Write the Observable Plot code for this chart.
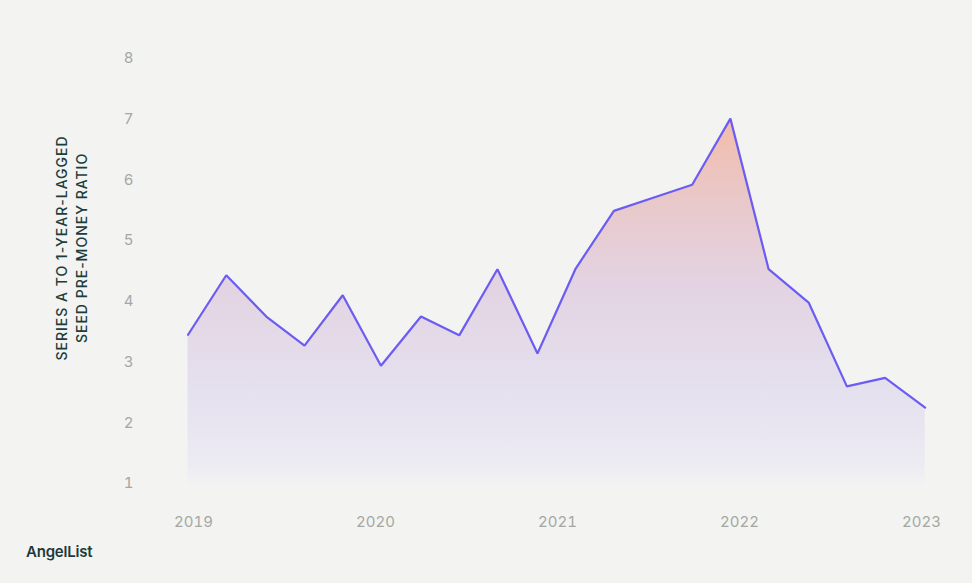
<!DOCTYPE html>
<html>
<head>
<meta charset="utf-8">
<script src="https://cdn.jsdelivr.net/npm/d3@7"></script>
<script src="https://cdn.jsdelivr.net/npm/@observablehq/plot@0.6"></script>
<style>
  html, body { margin: 0; padding: 0; background: #f3f3f2; }
  #chart { position: relative; width: 972px; height: 583px; }
  #brand { position: absolute; left: 26px; top: 542px; font-family: Inter, "Noto Sans", sans-serif; font-weight: 600; font-size: 15px; color: #1d3a3a; letter-spacing: -0.2px; }
</style>
</head>
<body>
<div id="chart"><div id="brand">AngelList</div></div>
<script>
const periods = [2018.97, 2019.18, 2019.40, 2019.61, 2019.82, 2020.03, 2020.25, 2020.46, 2020.67, 2020.89,
                 2021.10, 2021.31, 2021.53, 2021.74, 2021.95, 2022.16, 2022.38, 2022.59, 2022.80, 2023.02];
// Series A to 1-year-lagged seed pre-money ratio
const ratios = [3.45, 4.43, 3.75, 3.27, 4.10, 2.94, 3.75, 3.44, 4.53, 3.14,
                4.54, 5.49, 5.71, 5.92, 7.01, 4.53, 3.98, 2.60, 2.74, 2.25];
const yearTicks = [2019, 2020, 2021, 2022, 2023];
const ratioTicks = [1, 2, 3, 4, 5, 6, 7, 8];
const yLabelLines = ["SERIES A TO 1-YEAR-LAGGED", "SEED PRE-MONEY RATIO"];

const data = periods.map((p, i) => ({period: p, ratio: ratios[i]}));

const plot = Plot.plot({
  width: 972,
  height: 583,
  marginTop: 58,
  marginBottom: 100,
  marginLeft: 193,
  marginRight: 51,
  style: {background: "transparent", fontFamily: "Inter, 'Noto Sans', sans-serif", fontSize: "15px", overflow: "visible"},
  x: {domain: [2019, 2023]},
  y: {domain: [1, 8]},
  marks: [
    () => {
      const ns = "http://www.w3.org/2000/svg";
      const defs = document.createElementNS(ns, "defs");
      defs.innerHTML = `<linearGradient id="areaGrad" x1="0" y1="0" x2="0" y2="1">
        <stop offset="0" stop-color="#f3bcab"/>
        <stop offset="0.22" stop-color="#e9c8c9"/>
        <stop offset="0.45" stop-color="#e3d3e2"/>
        <stop offset="0.75" stop-color="#e5e1ef"/>
        <stop offset="0.93" stop-color="#eceaf2"/>
        <stop offset="1" stop-color="#f3f3f2"/>
      </linearGradient>`;
      return defs;
    },
    Plot.areaY(data, {x: "period", y1: 0.93, y2: "ratio", fill: "url(#areaGrad)"}),
    Plot.lineY(data, {x: "period", y: "ratio", stroke: "#6b5cf2", strokeWidth: 2.2, strokeLinejoin: "miter"}),
    Plot.axisY(ratioTicks, {tickSize: 0, tickPadding: 65, textAnchor: "middle", fill: "#a3a8a3", label: null, tickFormat: d => d}),
    Plot.axisX(yearTicks, {tickSize: 0, tickPadding: 33, fill: "#a3a8a3", label: null, tickFormat: d => String(d)})
  ]
});

const svg = d3.select(plot);
const lbl = svg.append("text")
  .attr("transform", "translate(72,248) rotate(-90)")
  .attr("text-anchor", "middle")
  .attr("fill", "#1b3d3d")
  .attr("font-family", "Inter, 'Noto Sans', sans-serif")
  .attr("font-size", 14)
  .attr("font-weight", 500)
  .attr("letter-spacing", "1px");
yLabelLines.forEach((t, i) => {
  lbl.append("tspan").attr("x", 0).attr("y", i === 0 ? -5 : 15).text(t);
});

document.getElementById("chart").prepend(plot);
</script>
</body>
</html>
